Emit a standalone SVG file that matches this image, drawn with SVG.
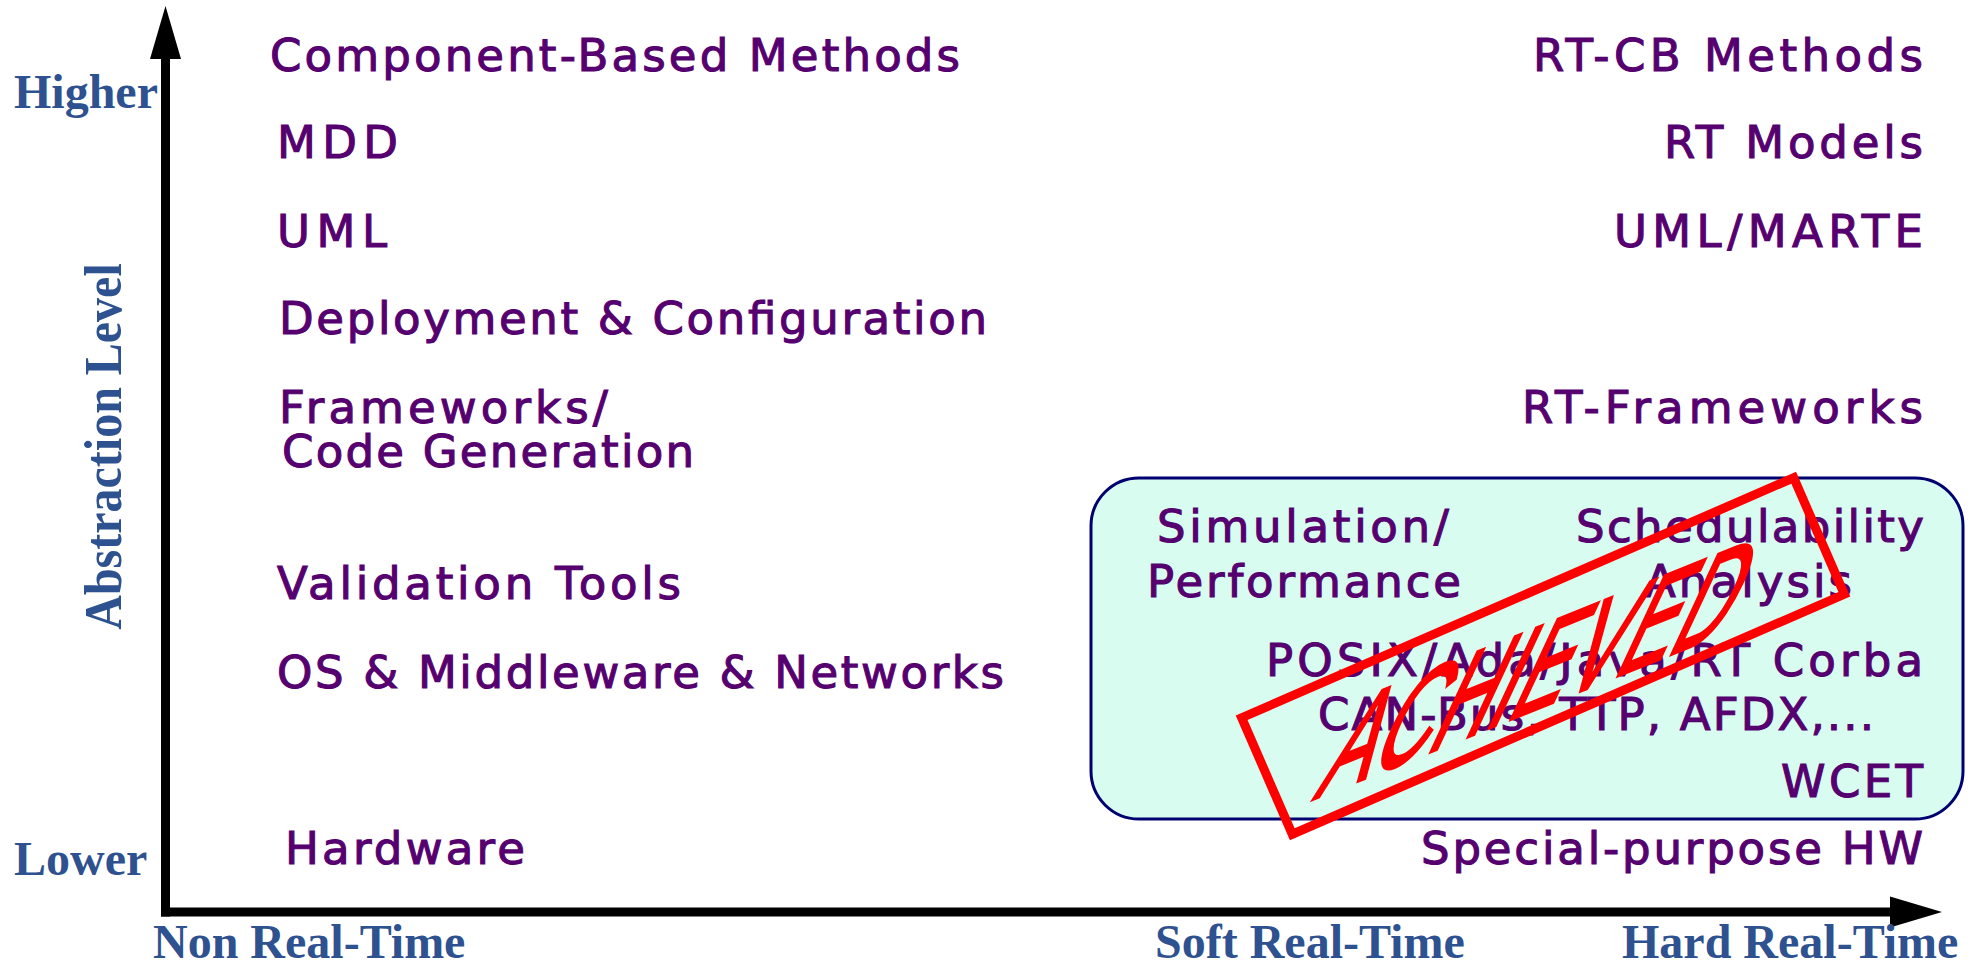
<svg xmlns="http://www.w3.org/2000/svg" width="1977" height="964" viewBox="0 0 1977 964">
<style>
.t{font-family:"DejaVu Sans","Liberation Sans",sans-serif;font-size:45px;fill:#560070;stroke:#560070;stroke-width:1.1px;}
.s{font-family:"Liberation Serif","Times New Roman",serif;font-size:48px;font-weight:bold;fill:#2E5190;}
.ax{stroke:#000;stroke-width:9;fill:none;}
</style>
<rect width="1977" height="964" fill="#fff"/>
<g id="axes">
<line class="ax" x1="165.5" y1="55" x2="165.5" y2="916.5"/>
<line class="ax" x1="161" y1="912" x2="1895" y2="912"/>
<polygon points="165.5,6 181,59 150,59" fill="#000"/>
<polygon points="1942,912 1890,896.5 1890,927.5" fill="#000"/>
</g>
<g id="axis-labels">
<text class="s" x="14" y="108">Higher</text>
<text class="s" x="14" y="875">Lower</text>
<text class="s" x="153" y="958">Non Real-Time</text>
<text class="s" x="1155" y="958">Soft Real-Time</text>
<text class="s" x="1622" y="958">Hard Real-Time</text>
<text class="s" text-anchor="middle" transform="translate(121,446.5) rotate(-90) scale(1,1.1)">Abstraction Level</text>
</g>
<g id="achieved-box">
<rect x="1091" y="478" width="872" height="341" rx="48" ry="48" fill="#D8FCF0" stroke="#000070" stroke-width="3"/>
</g>
<g id="left-column">
<text class="t" x="270" y="71" textLength="690" lengthAdjust="spacing">Component-Based Methods</text>
<text class="t" x="277" y="158" textLength="121" lengthAdjust="spacing">MDD</text>
<text class="t" x="277" y="247" textLength="110" lengthAdjust="spacing">UML</text>
<text class="t" x="279" y="334" textLength="708" lengthAdjust="spacing">Deployment &amp; Configuration</text>
<text class="t" x="279" y="423" textLength="329" lengthAdjust="spacing">Frameworks/</text>
<text class="t" x="282" y="467" textLength="412" lengthAdjust="spacing">Code Generation</text>
<text class="t" x="277" y="599" textLength="404" lengthAdjust="spacing">Validation Tools</text>
<text class="t" x="277" y="688" textLength="727" lengthAdjust="spacing">OS &amp; Middleware &amp; Networks</text>
<text class="t" x="285" y="864" textLength="240" lengthAdjust="spacing">Hardware</text>
</g>
<g id="right-column">
<text class="t" x="1533" y="71" textLength="390" lengthAdjust="spacing">RT-CB Methods</text>
<text class="t" x="1664" y="158" textLength="259" lengthAdjust="spacing">RT Models</text>
<text class="t" x="1614" y="247" textLength="309" lengthAdjust="spacing">UML/MARTE</text>
<text class="t" x="1522" y="423" textLength="401" lengthAdjust="spacing">RT-Frameworks</text>
</g>
<g id="box-texts">
<text class="t" x="1157" y="542" textLength="292" lengthAdjust="spacing">Simulation/</text>
<text class="t" x="1147" y="597" textLength="314" lengthAdjust="spacing">Performance</text>
<text class="t" x="1576" y="542" textLength="348" lengthAdjust="spacing">Schedulability</text>
<text class="t" x="1645" y="597" textLength="207" lengthAdjust="spacing">Analysis</text>
<text class="t" x="1266" y="676" textLength="657" lengthAdjust="spacing">POSIX/Ada/Java/RT Corba</text>
<text class="t" x="1318" y="730" textLength="556" lengthAdjust="spacing">CAN-Bus, TTP, AFDX,...</text>
<text class="t" x="1781" y="797" textLength="142" lengthAdjust="spacing">WCET</text>
</g>
<g id="hw-right">
<text class="t" x="1421" y="864" textLength="502" lengthAdjust="spacing">Special-purpose HW</text>
</g>
<g id="stamp">
<rect x="-301" y="-63.5" width="602" height="127" transform="translate(1543,656) rotate(-23.5)" fill="none" stroke="#FF0000" stroke-width="9"/>
<text transform="matrix(0.573,-0.232,-0.486,1.042,1312,800)" x="0" y="0" font-family="Liberation Sans, Arial, sans-serif" font-size="140" fill="#FF0000" stroke="#FF0000" stroke-width="3.5">ACHIEVED</text>
</g>
</svg>
